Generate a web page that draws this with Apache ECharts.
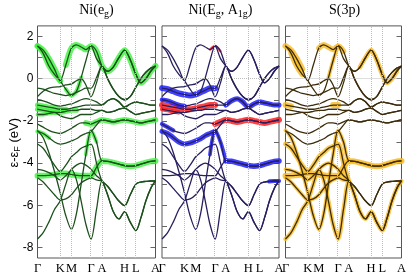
<!DOCTYPE html>
<html><head><meta charset="utf-8">
<script src="https://cdn.jsdelivr.net/npm/echarts@6/dist/echarts.min.js"></script>
<style>html,body{margin:0;padding:0;background:#fff}#c{width:409px;height:275px}</style>
</head><body><div id="c"></div>
<script>
// k-path (fraction of total path length)
const kPath = [0, 0.048, 0.096, 0.144, 0.192, 0.24, 0.288, 0.33, 0.37, 0.41, 0.454, 0.50, 0.546, 0.594, 0.642, 0.69, 0.738, 0.786, 0.834, 0.876, 0.918, 0.96, 1.0];
const symPoints = [0, 0.192, 0.288, 0.454, 0.546, 0.738, 0.834, 1];
const symLabels = ['Γ', 'K', 'M', 'Γ', 'A', 'H', 'L', 'A'];
const yTicks = [-8, -7, -6, -5, -4, -3, -2, -1, 0, 1, 2];
const yLabels = [-8, -6, -4, -2, 0, 2];
const panelTitles = ['{a|Ni(e}{s|g}{a|)}', '{a|Ni(E}{s|g}{a|, A}{s|1g}{a|)}', '{a|S(3p)}'];

// bands on Γ-K-M-Γ-A (13 k-points)
const bandU1 = [1.55, 1.35, 0.95, 0.45, -0.1, 0.65, 1.45, 1.6, 1.5, 1.38, 1.55, 1.3, 0.6];
const bandU2 = [1.55, 1.2, 0.6, 0.2, -0.1, -0.5, -0.8, -0.6, 0.05, 0.85, 1.55, 0.95, 0.6];
const bandU3 = [-0.45, -0.5, -0.6, -0.7, -0.75, -0.8, -0.75, -0.65, -0.55, -0.45, -0.45, 0.05, 0.6];
const bandU4 = [-0.85, -0.6, -0.45, -0.4, -0.38, -0.3, -0.25, -0.1, 0.0, -0.3, -0.85, -0.2, 0.6];
const bandU5 = [-1.0, -1.05, -1.15, -1.25, -1.3, -1.25, -1.2, -1.1, -1.0, -0.95, -1.0, -1.1, -1.25];
const bandU6 = [-1.25, -1.3, -1.35, -1.4, -1.45, -1.45, -1.4, -1.35, -1.3, -1.25, -1.25, -1.25, -1.25];
const bandU7 = [-1.45, -1.5, -1.55, -1.6, -1.6, -1.55, -1.5, -1.5, -1.45, -1.45, -1.45, -1.5, -1.5];
const bandU8 = [-1.7, -1.7, -1.65, -1.6, -1.75, -1.85, -1.9, -1.8, -1.7, -1.7, -1.7, -1.6, -1.5];
const bandU9 = [-2.5, -2.6, -2.8, -3.0, -3.1, -3.05, -2.95, -2.85, -2.7, -2.6, -2.5, -2.2, -1.95];
const bandU10 = [-2.15, -2.3, -2.45, -2.55, -2.6, -2.5, -2.35, -2.2, -2.1, -2.1, -2.15, -2.05, -1.95];
const bandL1 = [-7.6, -7.3, -6.8, -6.2, -5.8, -5.0, -4.3, -4.8, -5.8, -6.9, -7.6, -6.2, -4.85];
const bandL2 = [-2.45, -2.8, -3.5, -4.4, -5.4, -6.5, -7.15, -6.4, -5.0, -3.6, -2.45, -3.0, -3.9];
const bandL3 = [-4.6, -4.6, -4.58, -4.55, -4.5, -4.5, -4.55, -4.58, -4.6, -4.6, -4.6, -4.2, -3.9];
const bandL4 = [-4.7, -4.9, -5.2, -5.5, -5.75, -5.7, -5.5, -5.2, -4.95, -4.8, -4.7, -4.8, -4.85];
const bandL5 = [-3.1, -3.3, -3.7, -4.1, -4.4, -4.1, -3.7, -3.5, -3.3, -3.2, -3.1, -4.0, -4.85];
const bandL6 = [-4.3, -4.35, -4.45, -4.6, -4.8, -4.6, -4.3, -4.1, -4.0, -4.1, -4.3, -4.6, -4.85];

// degenerate pairs on A-H-L-A (10 k-points after A)
const pairQ1 = [0.35, 0.55, 1.0, 1.35, 0.9, 0.2, -0.2, 0.0, 0.35, 0.6];
const pairQ2 = [0.0, -0.5, -0.85, -1.0, -0.85, -0.4, 0.0, 0.3, 0.5, 0.6];
const pairQ3 = [-1.05, -0.95, -1.1, -1.35, -1.2, -1.1, -1.15, -1.2, -1.25, -1.25];
const pairQ4 = [-1.6, -1.55, -1.45, -1.4, -1.55, -1.7, -1.65, -1.6, -1.55, -1.5];
const pairQ5 = [-2.0, -2.05, -2.0, -1.95, -2.0, -2.05, -2.1, -2.05, -2.0, -1.95];
const pairP1 = [-3.92, -3.98, -4.05, -4.12, -4.15, -4.12, -4.05, -3.98, -3.92, -3.9];
const pairP2 = [-5.1, -5.45, -5.8, -6.02, -5.5, -5.0, -4.9, -4.87, -4.85, -4.85];
const pairP3 = [-5.5, -6.3, -6.65, -6.3, -6.8, -7.2, -6.6, -5.8, -5.2, -4.85];

// fat-band character: [band, first k index, last k index, weight]
const fatEg = [['U1',0,4,1],['U1',5,22,1],['U2',0,4,0.8],['U2',5,8,0.6],['U6',0,5,0.8],['U7',0,7,0.8],['U8',0,3,0.5],['U9',0,2,0.6],['U10',9,22,0.9],['L3',0,22,1],['L2',9,11,0.5]];
const fatEgA1gBlue = [['U3',0,10,1],['U5',0,4,0.7],['U5',12,22,0.8],['U9',0,10,0.8],['U10',0,2,0.6],['L3',12,22,0.9],['L2',9,12,0.5],['L4',20,22,0.6]];
const fatEgA1gRed = [['U6',0,10,1],['U7',0,3,0.6],['U10',10,22,1],['U1',9,11,0.2]];
const fatS3p = [['U1',0,3,1],['U1',6,11,0.9],['U1',14,21,0.7],['U2',1,3,0.9],['U2',8,10,0.5],['U6',0,1,1],['U6',9,10,1],['L1',0,22,0.6],['L2',0,22,0.5],['L3',0,22,1],['L4',0,12,0.5],['L5',0,12,0.7],['L6',0,12,0.5]];

const bandParts = {
  U1: [bandU1, pairQ1], U2: [bandU2, pairQ1], U3: [bandU3, pairQ2], U4: [bandU4, pairQ2],
  U5: [bandU5, pairQ3], U6: [bandU6, pairQ3], U7: [bandU7, pairQ4], U8: [bandU8, pairQ4],
  U9: [bandU9, pairQ5], U10: [bandU10, pairQ5], L1: [bandL1, pairP3], L2: [bandL2, pairP1],
  L3: [bandL3, pairP1], L4: [bandL4, pairP2], L5: [bandL5, pairP2], L6: [bandL6, pairP3]
};
const bands = {};
Object.keys(bandParts).forEach(n => { bands[n] = bandParts[n][0].concat(bandParts[n][1]); });

const panels = [
  { fats: [[fatEg, 'rgba(60,240,60,0.8)']], line: '#1c4f1c' },
  { fats: [[fatEgA1gRed, 'rgba(255,30,30,0.85)'], [fatEgA1gBlue, 'rgba(30,30,255,0.85)']], line: '#271f5e' },
  { fats: [[fatS3p, 'rgba(248,185,30,0.8)']], line: '#3d2c0a' }
];
const boxes = [{ left: 37.5, width: 118 }, { left: 162, width: 117 }, { left: 285.5, width: 118 }];
const TOP = 25.9, HEIGHT = 233.75;

const grids = [], xAxes = [], yAxes = [], series = [], graphics = [];
const richT = {
  a: { fontFamily: 'Liberation Serif', fontSize: 14, color: '#000', lineHeight: 16 },
  s: { fontFamily: 'Liberation Serif', fontSize: 10, color: '#000', lineHeight: 12, padding: [8, 0, 0, 0] }
};

panels.forEach((p, pi) => {
  grids.push({ left: boxes[pi].left, width: boxes[pi].width, top: TOP, height: HEIGHT, show: true, borderColor: '#555', borderWidth: 1, backgroundColor: 'transparent' });
  xAxes.push({ gridIndex: pi, type: 'value', min: 0, max: 1, axisLine: { show: false }, axisTick: { show: false }, splitLine: { show: false },
    axisLabel: { customValues: symPoints, formatter: v => symLabels[symPoints.indexOf(v)], fontFamily: 'Liberation Serif', fontSize: 12.5, color: '#000', margin: 4 } });
  yAxes.push({ gridIndex: pi, type: 'value', min: -8.5, max: 2.5, position: 'left', axisLine: { show: false }, splitLine: { show: false },
    axisTick: { show: true, inside: true, length: 5, customValues: yTicks, lineStyle: { color: '#666' } },
    axisLabel: { show: pi === 0, customValues: yLabels, fontFamily: 'Liberation Sans', fontSize: 12, color: '#000', margin: 4 } });
  yAxes.push({ gridIndex: pi, type: 'value', min: -8.5, max: 2.5, position: 'right', axisLine: { show: false }, splitLine: { show: false },
    axisTick: { show: true, inside: true, length: 5, customValues: yTicks, lineStyle: { color: '#666' } }, axisLabel: { show: false } });
  const xi = pi, yi = pi * 2;
  series.push({ type: 'line', xAxisIndex: xi, yAxisIndex: yi, data: [], silent: true, z: 1,
    markLine: { silent: true, symbol: ['none', 'none'], label: { show: false },
      lineStyle: { type: 'dotted', color: '#bdbdbd', width: 1 },
      data: symPoints.slice(1, -1).map(x => ({ xAxis: x })).concat([{ yAxis: 0 }]) } });
  p.fats.forEach(([list, color]) => {
    list.forEach(([name, i0, i1, w]) => {
      const b = bands[name];
      const data = [];
      for (let i = i0; i <= i1; i++) data.push([kPath[i], b[i]]);
      series.push({ type: 'line', xAxisIndex: xi, yAxisIndex: yi, data, smooth: 0.3, symbol: 'none', silent: true, z: 2,
        lineStyle: { color, width: 1.5 + w * 4.5, cap: 'round', join: 'round' } });
    });
  });
  Object.keys(bands).forEach(name => {
    series.push({ type: 'line', xAxisIndex: xi, yAxisIndex: yi, data: kPath.map((k, i) => [k, bands[name][i]]), smooth: 0.3, symbol: 'none', silent: true, z: 3,
      lineStyle: { color: p.line, width: 1.3 } });
  });
  graphics.push({ type: 'text', x: boxes[pi].left + boxes[pi].width / 2, y: 2, silent: true,
    style: { text: panelTitles[pi], rich: richT, align: 'center', textAlign: 'center', verticalAlign: 'top', textVerticalAlign: 'top' } });
});

graphics.push({ type: 'text', x: 14, y: TOP + HEIGHT / 2, rotation: Math.PI / 2, silent: true,
  style: { text: '{a|ε-ε}{s|F}{a| (eV)}', align: 'center', textAlign: 'center', verticalAlign: 'middle', textVerticalAlign: 'middle',
    rich: { a: { fontFamily: 'Liberation Sans', fontSize: 13, color: '#000', lineHeight: 15 }, s: { fontFamily: 'Liberation Sans', fontSize: 9, color: '#000', lineHeight: 11, padding: [7, 0, 0, 0] } } } });

const chart = echarts.init(document.getElementById('c'), null, { renderer: 'canvas', width: 409, height: 275 });
chart.setOption({ animation: false, backgroundColor: '#fff', grid: grids, xAxis: xAxes, yAxis: yAxes, series, graphic: graphics });
</script></body></html>
